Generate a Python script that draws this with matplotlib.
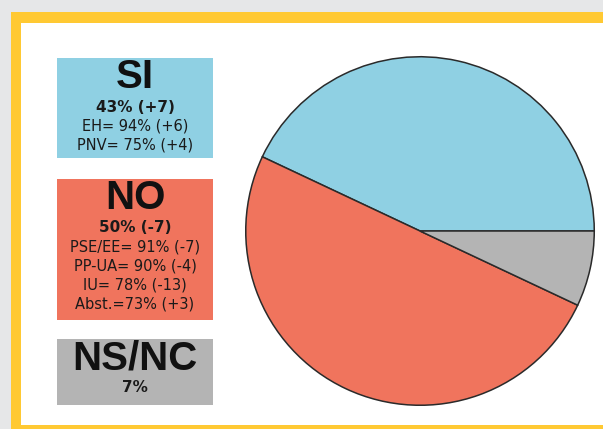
import matplotlib.pyplot as plt
from matplotlib.patches import Rectangle

# data
headings = ['SI', 'NO', 'NS/NC']
shares = [43, 50, 7]
share_changes = ['(+7)', '(-7)', '']
details = [
    ['EH= 94% (+6)', 'PNV= 75% (+4)'],
    ['PSE/EE= 91% (-7)', 'PP-UA= 90% (-4)', 'IU= 78% (-13)', 'Abst.=73% (+3)'],
    [],
]
colors = ['#8fd0e3', '#f0745d', '#b4b4b4']

W, H = 603, 429
fig = plt.figure(figsize=(W / 100, H / 100), dpi=100)
fig.patch.set_facecolor('#e6e7e8')

bg = fig.add_axes([0, 0, 1, 1])
bg.set_xlim(0, W)
bg.set_ylim(H, 0)
bg.axis('off')

# yellow frame + white panel
bg.add_patch(Rectangle((11, 12), W - 11, H - 12, facecolor='#ffc933', edgecolor='none'))
bg.add_patch(Rectangle((21, 23), W - 21, 402, facecolor='white', edgecolor='none'))

# legend boxes
box_x, box_w = 57, 156
box_tops = [58, 179, 339]
box_bottoms = [158, 320, 405]
head_font = ['Liberation Sans', 'DejaVu Sans']

for i, head in enumerate(headings):
    top, bot = box_tops[i], box_bottoms[i]
    bg.add_patch(Rectangle((box_x, top), box_w, bot - top,
                           facecolor=colors[i], edgecolor='none'))
    cx = box_x + box_w / 2
    bg.text(cx, top + 19, head, ha='center', va='center', fontsize=29,
            fontweight='bold', family=head_font, color='#111111')
    pct = f'{shares[i]}%'
    if share_changes[i]:
        pct += ' ' + share_changes[i]
    bg.text(cx, top + 49, pct, ha='center', va='center', fontsize=11,
            fontweight='bold', family='DejaVu Sans', color='#1a1a1a')
    for j, line in enumerate(details[i]):
        bg.text(cx, top + 68 + 19 * j, line, ha='center', va='center',
                fontsize=10.5, family='DejaVu Sans', color='#1a1a1a')

# pie
ax = fig.add_axes([244 / W, 22 / H, 352 / W, 352 / H])
ax.pie(shares, colors=colors, startangle=0, counterclock=True,
       wedgeprops=dict(edgecolor='#2a2a2a', linewidth=1.1))
ax.set_xlim(-1.01, 1.01)
ax.set_ylim(-1.01, 1.01)
ax.axis('off')

fig.savefig('out.png', dpi=100, facecolor=fig.get_facecolor())
